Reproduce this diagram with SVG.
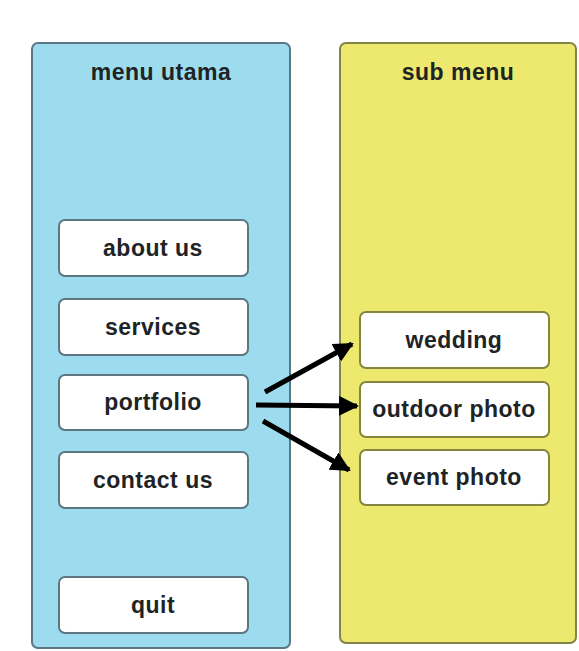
<svg xmlns="http://www.w3.org/2000/svg" width="579" height="651" viewBox="0 0 579 651">
<defs>
<style>
.t{font-family:"Liberation Sans",Arial,sans-serif;font-weight:bold;font-size:23px;fill:#1e2326;text-anchor:middle;letter-spacing:0.5px}
.lb{fill:#ffffff;stroke:#5d7680;stroke-width:2}
.rb{fill:#ffffff;stroke:#85853e;stroke-width:2}
.c{stroke:#000;stroke-width:5;fill:none}
</style>
<marker id="ah" viewBox="0 0 10 10" refX="9" refY="5" markerWidth="4" markerHeight="4" markerUnits="strokeWidth" orient="auto">
<path d="M0,0 L10,5 L0,10 z" fill="#000"/>
</marker>
</defs>
<rect width="579" height="651" fill="#fff"/>
<g id="menu-utama">
<rect x="32" y="43" width="258" height="605" rx="6" fill="#9ddcef" stroke="#5a7782" stroke-width="2"/>
<text class="t" x="161" y="80">menu utama</text>
</g>
<g id="sub-menu">
<rect x="340" y="43" width="236" height="600" rx="6" fill="#ece96e" stroke="#848448" stroke-width="2"/>
<text class="t" x="458" y="80">sub menu</text>
</g>
<g id="about-us"><rect class="lb" x="59" y="220" width="189" height="56" rx="6"/><text class="t" x="153" y="256">about us</text></g>
<g id="services"><rect class="lb" x="59" y="299" width="189" height="56" rx="6"/><text class="t" x="153" y="335">services</text></g>
<g id="portfolio"><rect class="lb" x="59" y="375" width="189" height="55" rx="6"/><text class="t" x="153" y="410">portfolio</text></g>
<g id="contact-us"><rect class="lb" x="59" y="452" width="189" height="56" rx="6"/><text class="t" x="153" y="488">contact us</text></g>
<g id="quit"><rect class="lb" x="59" y="577" width="189" height="56" rx="6"/><text class="t" x="153" y="613">quit</text></g>
<g id="wedding"><rect class="rb" x="360" y="312" width="189" height="56" rx="6"/><text class="t" x="454" y="348">wedding</text></g>
<g id="outdoor-photo"><rect class="rb" x="360" y="382" width="189" height="55" rx="6"/><text class="t" x="454" y="417">outdoor photo</text></g>
<g id="event-photo"><rect class="rb" x="360" y="450" width="189" height="55" rx="6"/><text class="t" x="454" y="485">event photo</text></g>
<g id="connectors">
<line class="c" x1="265" y1="392" x2="352" y2="344" marker-end="url(#ah)"/>
<line class="c" x1="256" y1="405" x2="357" y2="406" marker-end="url(#ah)"/>
<line class="c" x1="263" y1="421" x2="349" y2="470" marker-end="url(#ah)"/>
</g>
</svg>
